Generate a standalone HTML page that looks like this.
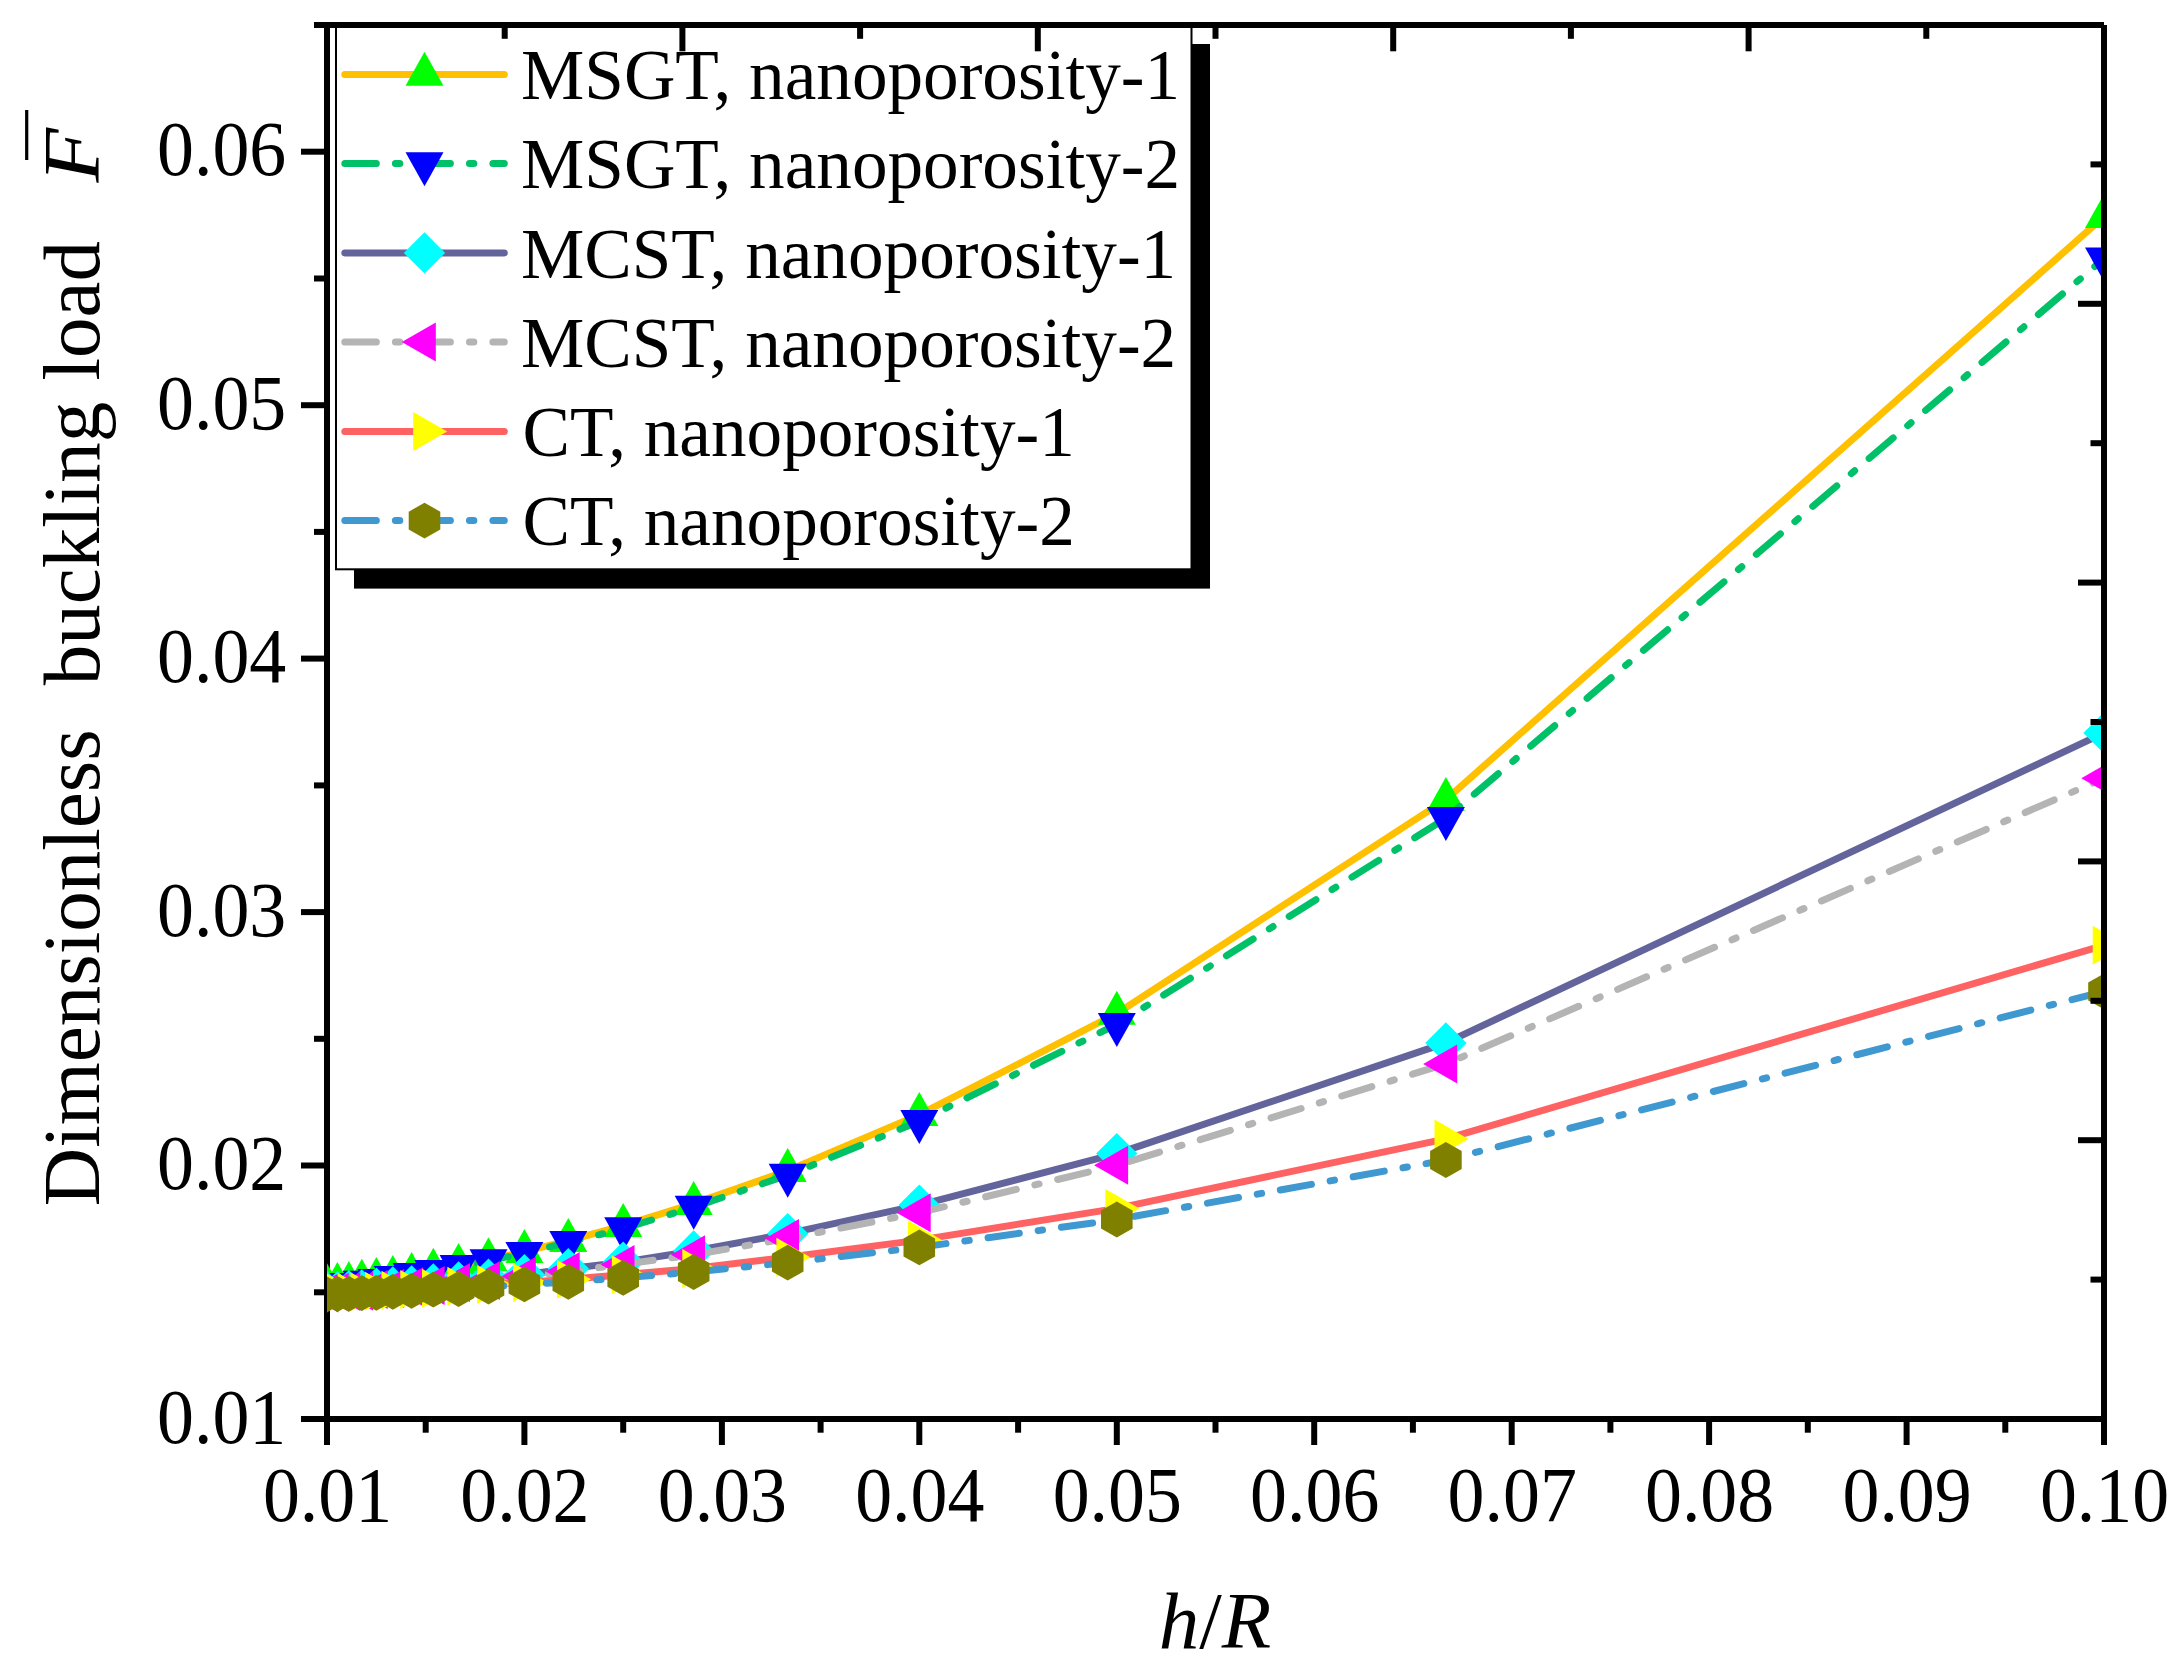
<!DOCTYPE html>
<html><head><meta charset="utf-8"><title>Dimensionless buckling load vs h/R</title>
<style>html,body{margin:0;padding:0;background:#fff;}body{width:2181px;height:1672px;overflow:hidden;}svg{display:block;}text{font-family:"Liberation Serif",serif;fill:#000;}</style></head><body>
<svg width="2181" height="1672" viewBox="0 0 2181 1672">
<rect width="2181" height="1672" fill="#fff"/>
<defs><clipPath id="plot"><rect x="327.0" y="25.0" width="1777.0" height="1394.0"/></clipPath></defs>
<g stroke="#000" stroke-width="6.0" fill="none" stroke-linecap="butt">
<line x1="327.0" y1="22.0" x2="327.0" y2="1445.0"/>
<line x1="301.0" y1="1419.0" x2="2107.0" y2="1419.0"/>
<line x1="425.7" y1="1419.0" x2="425.7" y2="1432.7"/>
<line x1="524.4" y1="1419.0" x2="524.4" y2="1445"/>
<line x1="623.2" y1="1419.0" x2="623.2" y2="1432.7"/>
<line x1="721.9" y1="1419.0" x2="721.9" y2="1445"/>
<line x1="820.6" y1="1419.0" x2="820.6" y2="1432.7"/>
<line x1="919.3" y1="1419.0" x2="919.3" y2="1445"/>
<line x1="1018.1" y1="1419.0" x2="1018.1" y2="1432.7"/>
<line x1="1116.8" y1="1419.0" x2="1116.8" y2="1445"/>
<line x1="1215.5" y1="1419.0" x2="1215.5" y2="1432.7"/>
<line x1="1314.2" y1="1419.0" x2="1314.2" y2="1445"/>
<line x1="1412.9" y1="1419.0" x2="1412.9" y2="1432.7"/>
<line x1="1511.7" y1="1419.0" x2="1511.7" y2="1445"/>
<line x1="1610.4" y1="1419.0" x2="1610.4" y2="1432.7"/>
<line x1="1709.1" y1="1419.0" x2="1709.1" y2="1445"/>
<line x1="1807.8" y1="1419.0" x2="1807.8" y2="1432.7"/>
<line x1="1906.6" y1="1419.0" x2="1906.6" y2="1445"/>
<line x1="2005.3" y1="1419.0" x2="2005.3" y2="1432.7"/>
<line x1="2104.0" y1="1419.0" x2="2104.0" y2="1445"/>
<line x1="314" y1="1292.3" x2="327.0" y2="1292.3"/>
<line x1="301" y1="1165.5" x2="327.0" y2="1165.5"/>
<line x1="314" y1="1038.8" x2="327.0" y2="1038.8"/>
<line x1="301" y1="912.1" x2="327.0" y2="912.1"/>
<line x1="314" y1="785.4" x2="327.0" y2="785.4"/>
<line x1="301" y1="658.6" x2="327.0" y2="658.6"/>
<line x1="314" y1="531.9" x2="327.0" y2="531.9"/>
<line x1="301" y1="405.2" x2="327.0" y2="405.2"/>
<line x1="314" y1="278.5" x2="327.0" y2="278.5"/>
<line x1="301" y1="151.7" x2="327.0" y2="151.7"/>
</g>
<g clip-path="url(#plot)">
<polyline points="2104.0,216.6 1445.9,799.6 1116.8,1013.5 919.3,1114.6 787.7,1170.6 693.7,1203.6 623.2,1225.6 568.3,1240.6 524.4,1251.7 488.5,1259.8 458.6,1265.7 433.3,1270.5 411.6,1274.5 392.8,1277.6 376.4,1279.6 361.8,1281.4 348.9,1283.7 337.4,1284.7 327.0,1285.9" fill="none" stroke="#FFC000" stroke-width="7.0" stroke-linecap="round" stroke-linejoin="round"/>
<polygon points="2104.0,193.9 2085.0,227.9 2123.0,227.9" fill="#00FF00"/>
<polygon points="1445.9,776.9 1426.9,810.9 1464.9,810.9" fill="#00FF00"/>
<polygon points="1116.8,990.8 1097.8,1024.8 1135.8,1024.8" fill="#00FF00"/>
<polygon points="919.3,1091.9 900.3,1125.9 938.3,1125.9" fill="#00FF00"/>
<polygon points="787.7,1147.9 768.7,1181.9 806.7,1181.9" fill="#00FF00"/>
<polygon points="693.7,1180.9 674.7,1214.9 712.7,1214.9" fill="#00FF00"/>
<polygon points="623.2,1202.9 604.2,1236.9 642.2,1236.9" fill="#00FF00"/>
<polygon points="568.3,1217.9 549.3,1251.9 587.3,1251.9" fill="#00FF00"/>
<polygon points="524.4,1229.1 505.4,1263.1 543.4,1263.1" fill="#00FF00"/>
<polygon points="488.5,1237.2 469.5,1271.2 507.5,1271.2" fill="#00FF00"/>
<polygon points="458.6,1243.0 439.6,1277.0 477.6,1277.0" fill="#00FF00"/>
<polygon points="433.3,1247.8 414.3,1281.8 452.3,1281.8" fill="#00FF00"/>
<polygon points="411.6,1251.9 392.6,1285.9 430.6,1285.9" fill="#00FF00"/>
<polygon points="392.8,1254.9 373.8,1288.9 411.8,1288.9" fill="#00FF00"/>
<polygon points="376.4,1256.9 357.4,1290.9 395.4,1290.9" fill="#00FF00"/>
<polygon points="361.8,1258.7 342.8,1292.7 380.8,1292.7" fill="#00FF00"/>
<polygon points="348.9,1261.0 329.9,1295.0 367.9,1295.0" fill="#00FF00"/>
<polygon points="337.4,1262.0 318.4,1296.0 356.4,1296.0" fill="#00FF00"/>
<polygon points="327.0,1263.3 308.0,1297.3 346.0,1297.3" fill="#00FF00"/>
<polyline points="2104.0,258.7 1445.9,818.3 1116.8,1024.4 919.3,1121.2 787.7,1175.2 693.7,1207.1 623.2,1228.7 568.3,1242.3 524.4,1253.2 488.5,1260.6 458.6,1266.4 433.3,1271.2 411.6,1274.3 392.8,1277.3 376.4,1280.4 361.8,1282.1 348.9,1284.5 337.4,1286.0 327.0,1284.7" fill="none" stroke="#00C168" stroke-width="7.0" stroke-linecap="round" stroke-linejoin="round" stroke-dasharray="31.55 19.05 4.4 19.05" stroke-dashoffset="19.5"/>
<polygon points="2104.0,281.4 2085.0,247.4 2123.0,247.4" fill="#0000FF"/>
<polygon points="1445.9,841.0 1426.9,807.0 1464.9,807.0" fill="#0000FF"/>
<polygon points="1116.8,1047.0 1097.8,1013.0 1135.8,1013.0" fill="#0000FF"/>
<polygon points="919.3,1143.9 900.3,1109.9 938.3,1109.9" fill="#0000FF"/>
<polygon points="787.7,1197.8 768.7,1163.8 806.7,1163.8" fill="#0000FF"/>
<polygon points="693.7,1229.8 674.7,1195.8 712.7,1195.8" fill="#0000FF"/>
<polygon points="623.2,1251.3 604.2,1217.3 642.2,1217.3" fill="#0000FF"/>
<polygon points="568.3,1265.0 549.3,1231.0 587.3,1231.0" fill="#0000FF"/>
<polygon points="524.4,1275.9 505.4,1241.9 543.4,1241.9" fill="#0000FF"/>
<polygon points="488.5,1283.3 469.5,1249.3 507.5,1249.3" fill="#0000FF"/>
<polygon points="458.6,1289.1 439.6,1255.1 477.6,1255.1" fill="#0000FF"/>
<polygon points="433.3,1293.9 414.3,1259.9 452.3,1259.9" fill="#0000FF"/>
<polygon points="411.6,1296.9 392.6,1262.9 430.6,1262.9" fill="#0000FF"/>
<polygon points="392.8,1300.0 373.8,1266.0 411.8,1266.0" fill="#0000FF"/>
<polygon points="376.4,1303.0 357.4,1269.0 395.4,1269.0" fill="#0000FF"/>
<polygon points="361.8,1304.8 342.8,1270.8 380.8,1270.8" fill="#0000FF"/>
<polygon points="348.9,1307.1 329.9,1273.1 367.9,1273.1" fill="#0000FF"/>
<polygon points="337.4,1308.6 318.4,1274.6 356.4,1274.6" fill="#0000FF"/>
<polygon points="327.0,1307.3 308.0,1273.3 346.0,1273.3" fill="#0000FF"/>
<polyline points="2104.0,732.9 1445.9,1042.9 1116.8,1153.6 919.3,1205.1 787.7,1233.7 693.7,1251.0 623.2,1262.1 568.3,1268.7 524.4,1274.8 488.5,1279.1 458.6,1281.9 433.3,1283.9 411.6,1285.9 392.8,1287.0 376.4,1288.2 361.8,1290.0 348.9,1290.8 337.4,1291.6 327.0,1291.8" fill="none" stroke="#64649C" stroke-width="7.0" stroke-linecap="round" stroke-linejoin="round"/>
<polygon points="2104.0,712.2 2124.7,732.9 2104.0,753.6 2083.3,732.9" fill="#00FFFF"/>
<polygon points="1445.9,1022.2 1466.6,1042.9 1445.9,1063.6 1425.2,1042.9" fill="#00FFFF"/>
<polygon points="1116.8,1132.9 1137.5,1153.6 1116.8,1174.3 1096.1,1153.6" fill="#00FFFF"/>
<polygon points="919.3,1184.4 940.0,1205.1 919.3,1225.8 898.6,1205.1" fill="#00FFFF"/>
<polygon points="787.7,1213.0 808.4,1233.7 787.7,1254.4 767.0,1233.7" fill="#00FFFF"/>
<polygon points="693.7,1230.3 714.4,1251.0 693.7,1271.7 673.0,1251.0" fill="#00FFFF"/>
<polygon points="623.2,1241.4 643.9,1262.1 623.2,1282.8 602.5,1262.1" fill="#00FFFF"/>
<polygon points="568.3,1248.0 589.0,1268.7 568.3,1289.4 547.6,1268.7" fill="#00FFFF"/>
<polygon points="524.4,1254.1 545.1,1274.8 524.4,1295.5 503.7,1274.8" fill="#00FFFF"/>
<polygon points="488.5,1258.4 509.2,1279.1 488.5,1299.8 467.8,1279.1" fill="#00FFFF"/>
<polygon points="458.6,1261.2 479.3,1281.9 458.6,1302.6 437.9,1281.9" fill="#00FFFF"/>
<polygon points="433.3,1263.2 454.0,1283.9 433.3,1304.6 412.6,1283.9" fill="#00FFFF"/>
<polygon points="411.6,1265.2 432.3,1285.9 411.6,1306.6 390.9,1285.9" fill="#00FFFF"/>
<polygon points="392.8,1266.3 413.5,1287.0 392.8,1307.7 372.1,1287.0" fill="#00FFFF"/>
<polygon points="376.4,1267.5 397.1,1288.2 376.4,1308.9 355.7,1288.2" fill="#00FFFF"/>
<polygon points="361.8,1269.3 382.5,1290.0 361.8,1310.7 341.1,1290.0" fill="#00FFFF"/>
<polygon points="348.9,1270.1 369.6,1290.8 348.9,1311.5 328.2,1290.8" fill="#00FFFF"/>
<polygon points="337.4,1270.9 358.1,1291.6 337.4,1312.3 316.7,1291.6" fill="#00FFFF"/>
<polygon points="327.0,1271.1 347.7,1291.8 327.0,1312.5 306.3,1291.8" fill="#00FFFF"/>
<polyline points="2104.0,778.3 1445.9,1063.9 1116.8,1165.3 919.3,1212.7 787.7,1238.5 693.7,1254.8 623.2,1264.4 568.3,1271.5 524.4,1276.3 488.5,1280.4 458.6,1282.4 433.3,1285.4 411.6,1286.7 392.8,1288.5 376.4,1289.5 361.8,1291.3 348.9,1291.5 337.4,1292.2 327.0,1293.0" fill="none" stroke="#B4B4B4" stroke-width="7.0" stroke-linecap="round" stroke-linejoin="round" stroke-dasharray="31.55 19.05 4.4 19.05" stroke-dashoffset="19.7"/>
<polygon points="2081.3,778.3 2115.3,758.8 2115.3,797.8" fill="#FF00FF"/>
<polygon points="1423.2,1063.9 1457.2,1044.4 1457.2,1083.4" fill="#FF00FF"/>
<polygon points="1094.1,1165.3 1128.1,1145.8 1128.1,1184.8" fill="#FF00FF"/>
<polygon points="896.7,1212.7 930.7,1193.2 930.7,1232.2" fill="#FF00FF"/>
<polygon points="765.0,1238.5 799.0,1219.0 799.0,1258.0" fill="#FF00FF"/>
<polygon points="671.0,1254.8 705.0,1235.3 705.0,1274.3" fill="#FF00FF"/>
<polygon points="600.5,1264.4 634.5,1244.9 634.5,1283.9" fill="#FF00FF"/>
<polygon points="545.7,1271.5 579.7,1252.0 579.7,1291.0" fill="#FF00FF"/>
<polygon points="501.8,1276.3 535.8,1256.8 535.8,1295.8" fill="#FF00FF"/>
<polygon points="465.9,1280.4 499.9,1260.9 499.9,1299.9" fill="#FF00FF"/>
<polygon points="436.0,1282.4 470.0,1262.9 470.0,1301.9" fill="#FF00FF"/>
<polygon points="410.6,1285.4 444.6,1265.9 444.6,1304.9" fill="#FF00FF"/>
<polygon points="389.0,1286.7 423.0,1267.2 423.0,1306.2" fill="#FF00FF"/>
<polygon points="370.1,1288.5 404.1,1269.0 404.1,1308.0" fill="#FF00FF"/>
<polygon points="353.7,1289.5 387.7,1270.0 387.7,1309.0" fill="#FF00FF"/>
<polygon points="339.2,1291.3 373.2,1271.8 373.2,1310.8" fill="#FF00FF"/>
<polygon points="326.3,1291.5 360.3,1272.0 360.3,1311.0" fill="#FF00FF"/>
<polygon points="314.7,1292.2 348.7,1272.7 348.7,1311.7" fill="#FF00FF"/>
<polygon points="304.3,1293.0 338.3,1273.5 338.3,1312.5" fill="#FF00FF"/>
<polyline points="2104.0,945.3 1445.9,1138.9 1116.8,1208.4 919.3,1240.1 787.7,1257.3 693.7,1268.4 623.2,1274.8 568.3,1279.3 524.4,1282.4 488.5,1284.4 458.6,1286.2 433.3,1288.2 411.6,1289.5 392.8,1290.2 376.4,1291.3 361.8,1291.7 348.9,1292.2 337.4,1292.7 327.0,1292.3" fill="none" stroke="#FF6262" stroke-width="7.0" stroke-linecap="round" stroke-linejoin="round"/>
<polygon points="2126.7,945.3 2092.7,925.8 2092.7,964.8" fill="#FFFF00"/>
<polygon points="1468.5,1138.9 1434.5,1119.4 1434.5,1158.4" fill="#FFFF00"/>
<polygon points="1139.4,1208.4 1105.4,1188.9 1105.4,1227.9" fill="#FFFF00"/>
<polygon points="942.0,1240.1 908.0,1220.6 908.0,1259.6" fill="#FFFF00"/>
<polygon points="810.4,1257.3 776.4,1237.8 776.4,1276.8" fill="#FFFF00"/>
<polygon points="716.3,1268.4 682.3,1248.9 682.3,1287.9" fill="#FFFF00"/>
<polygon points="645.8,1274.8 611.8,1255.3 611.8,1294.3" fill="#FFFF00"/>
<polygon points="591.0,1279.3 557.0,1259.8 557.0,1298.8" fill="#FFFF00"/>
<polygon points="547.1,1282.4 513.1,1262.9 513.1,1301.9" fill="#FFFF00"/>
<polygon points="511.2,1284.4 477.2,1264.9 477.2,1303.9" fill="#FFFF00"/>
<polygon points="481.3,1286.2 447.3,1266.7 447.3,1305.7" fill="#FFFF00"/>
<polygon points="456.0,1288.2 422.0,1268.7 422.0,1307.7" fill="#FFFF00"/>
<polygon points="434.3,1289.5 400.3,1270.0 400.3,1309.0" fill="#FFFF00"/>
<polygon points="415.5,1290.2 381.5,1270.7 381.5,1309.7" fill="#FFFF00"/>
<polygon points="399.0,1291.3 365.0,1271.8 365.0,1310.8" fill="#FFFF00"/>
<polygon points="384.5,1291.7 350.5,1272.2 350.5,1311.2" fill="#FFFF00"/>
<polygon points="371.6,1292.2 337.6,1272.7 337.6,1311.7" fill="#FFFF00"/>
<polygon points="360.1,1292.7 326.1,1273.2 326.1,1312.2" fill="#FFFF00"/>
<polygon points="349.7,1292.3 315.7,1272.8 315.7,1311.8" fill="#FFFF00"/>
<polyline points="2104.0,991.4 1445.9,1160.0 1116.8,1219.5 919.3,1247.4 787.7,1262.6 693.7,1272.0 623.2,1277.8 568.3,1281.9 524.4,1284.4 488.5,1286.7 458.6,1289.0 433.3,1289.7 411.6,1290.8 392.8,1291.8 376.4,1292.8 361.8,1293.1 348.9,1293.8 337.4,1294.0 327.0,1294.3" fill="none" stroke="#3F98CF" stroke-width="7.0" stroke-linecap="round" stroke-linejoin="round" stroke-dasharray="31.55 19.05 4.4 19.05" stroke-dashoffset="-1.5"/>
<polygon points="2104.0,973.5 2119.8,982.5 2119.8,1000.4 2104.0,1009.3 2088.2,1000.4 2088.2,982.5" fill="#808000"/>
<polygon points="1445.9,1142.1 1461.7,1151.0 1461.7,1168.9 1445.9,1177.9 1430.1,1168.9 1430.1,1151.0" fill="#808000"/>
<polygon points="1116.8,1201.6 1132.6,1210.6 1132.6,1228.5 1116.8,1237.4 1101.0,1228.5 1101.0,1210.6" fill="#808000"/>
<polygon points="919.3,1229.5 935.1,1238.5 935.1,1256.4 919.3,1265.3 903.5,1256.4 903.5,1238.5" fill="#808000"/>
<polygon points="787.7,1244.7 803.5,1253.7 803.5,1271.6 787.7,1280.5 771.9,1271.6 771.9,1253.7" fill="#808000"/>
<polygon points="693.7,1254.1 709.5,1263.0 709.5,1280.9 693.7,1289.9 677.9,1280.9 677.9,1263.0" fill="#808000"/>
<polygon points="623.2,1259.9 639.0,1268.9 639.0,1286.8 623.2,1295.7 607.4,1286.8 607.4,1268.9" fill="#808000"/>
<polygon points="568.3,1264.0 584.1,1272.9 584.1,1290.8 568.3,1299.8 552.5,1290.8 552.5,1272.9" fill="#808000"/>
<polygon points="524.4,1266.5 540.2,1275.5 540.2,1293.4 524.4,1302.3 508.6,1293.4 508.6,1275.5" fill="#808000"/>
<polygon points="488.5,1268.8 504.3,1277.7 504.3,1295.6 488.5,1304.6 472.7,1295.6 472.7,1277.7" fill="#808000"/>
<polygon points="458.6,1271.1 474.4,1280.0 474.4,1297.9 458.6,1306.9 442.8,1297.9 442.8,1280.0" fill="#808000"/>
<polygon points="433.3,1271.8 449.1,1280.8 449.1,1298.7 433.3,1307.6 417.5,1298.7 417.5,1280.8" fill="#808000"/>
<polygon points="411.6,1272.9 427.4,1281.8 427.4,1299.7 411.6,1308.7 395.8,1299.7 395.8,1281.8" fill="#808000"/>
<polygon points="392.8,1273.9 408.6,1282.8 408.6,1300.7 392.8,1309.7 377.0,1300.7 377.0,1282.8" fill="#808000"/>
<polygon points="376.4,1274.9 392.2,1283.8 392.2,1301.7 376.4,1310.7 360.6,1301.7 360.6,1283.8" fill="#808000"/>
<polygon points="361.8,1275.2 377.6,1284.1 377.6,1302.0 361.8,1311.0 346.0,1302.0 346.0,1284.1" fill="#808000"/>
<polygon points="348.9,1275.9 364.7,1284.8 364.7,1302.7 348.9,1311.7 333.1,1302.7 333.1,1284.8" fill="#808000"/>
<polygon points="337.4,1276.1 353.2,1285.0 353.2,1302.9 337.4,1311.9 321.6,1302.9 321.6,1285.0" fill="#808000"/>
<polygon points="327.0,1276.4 342.8,1285.4 342.8,1303.3 327.0,1312.2 311.2,1303.3 311.2,1285.4" fill="#808000"/>
</g>
<rect x="354" y="44" width="856" height="544.6" fill="#000"/>
<rect x="336.0" y="25.0" width="855.5" height="544.3" fill="#fff" stroke="#000" stroke-width="2"/>
<line x1="344.8" y1="74.4" x2="504.3" y2="74.4" stroke="#FFC000" stroke-width="7.0" stroke-linecap="round"/>
<polygon points="424.5,51.7 405.5,85.7 443.5,85.7" fill="#00FF00"/>
<text x="521.0" y="99.2" font-size="71.2">MSGT, nanoporosity-1</text>
<line x1="344.8" y1="163.6" x2="504.3" y2="163.6" stroke="#00C168" stroke-width="7.0" stroke-linecap="round" stroke-dasharray="31.55 19.05 4.4 19.05"/>
<polygon points="424.5,186.3 405.5,152.3 443.5,152.3" fill="#0000FF"/>
<text x="521.0" y="188.4" font-size="71.2">MSGT, nanoporosity-2</text>
<line x1="344.8" y1="252.9" x2="504.3" y2="252.9" stroke="#64649C" stroke-width="7.0" stroke-linecap="round"/>
<polygon points="424.5,232.2 445.2,252.9 424.5,273.6 403.8,252.9" fill="#00FFFF"/>
<text x="521.0" y="277.7" font-size="71.2">MCST, nanoporosity-1</text>
<line x1="344.8" y1="342.1" x2="504.3" y2="342.1" stroke="#B4B4B4" stroke-width="7.0" stroke-linecap="round" stroke-dasharray="31.55 19.05 4.4 19.05"/>
<polygon points="401.8,342.1 435.8,322.6 435.8,361.6" fill="#FF00FF"/>
<text x="521.0" y="366.9" font-size="71.2">MCST, nanoporosity-2</text>
<line x1="344.8" y1="431.4" x2="504.3" y2="431.4" stroke="#FF6262" stroke-width="7.0" stroke-linecap="round"/>
<polygon points="447.2,431.4 413.2,411.9 413.2,450.9" fill="#FFFF00"/>
<text x="522.5" y="456.2" font-size="71.2">CT, nanoporosity-1</text>
<line x1="344.8" y1="520.6" x2="504.3" y2="520.6" stroke="#3F98CF" stroke-width="7.0" stroke-linecap="round" stroke-dasharray="31.55 19.05 4.4 19.05"/>
<polygon points="424.5,502.7 440.3,511.7 440.3,529.6 424.5,538.5 408.7,529.6 408.7,511.7" fill="#808000"/>
<text x="522.5" y="545.4" font-size="71.2">CT, nanoporosity-2</text>
<g stroke="#000" stroke-width="6.0" fill="none" stroke-linecap="butt">
<line x1="314.0" y1="25.0" x2="2104.0" y2="25.0"/>
<line x1="2104.0" y1="25.0" x2="2104.0" y2="1445.0"/>
<line x1="504.7" y1="25.0" x2="504.7" y2="38.8"/>
<line x1="682.4" y1="25.0" x2="682.4" y2="51.3"/>
<line x1="860.1" y1="25.0" x2="860.1" y2="38.8"/>
<line x1="1037.8" y1="25.0" x2="1037.8" y2="51.3"/>
<line x1="1215.5" y1="25.0" x2="1215.5" y2="38.8"/>
<line x1="1393.2" y1="25.0" x2="1393.2" y2="51.3"/>
<line x1="1570.9" y1="25.0" x2="1570.9" y2="38.8"/>
<line x1="1748.6" y1="25.0" x2="1748.6" y2="51.3"/>
<line x1="1926.3" y1="25.0" x2="1926.3" y2="38.8"/>
<line x1="2090.5" y1="164.4" x2="2104.0" y2="164.4"/>
<line x1="2078.0" y1="303.8" x2="2104.0" y2="303.8"/>
<line x1="2090.5" y1="443.2" x2="2104.0" y2="443.2"/>
<line x1="2078.0" y1="582.6" x2="2104.0" y2="582.6"/>
<line x1="2090.5" y1="722.0" x2="2104.0" y2="722.0"/>
<line x1="2078.0" y1="861.4" x2="2104.0" y2="861.4"/>
<line x1="2090.5" y1="1000.8" x2="2104.0" y2="1000.8"/>
<line x1="2078.0" y1="1140.2" x2="2104.0" y2="1140.2"/>
<line x1="2090.5" y1="1279.6" x2="2104.0" y2="1279.6"/>
</g>
<text transform="translate(327.5,1521.2) scale(0.947,1)" font-size="78" text-anchor="middle">0.01</text>
<text transform="translate(524.9,1521.2) scale(0.947,1)" font-size="78" text-anchor="middle">0.02</text>
<text transform="translate(722.4,1521.2) scale(0.947,1)" font-size="78" text-anchor="middle">0.03</text>
<text transform="translate(919.8,1521.2) scale(0.947,1)" font-size="78" text-anchor="middle">0.04</text>
<text transform="translate(1117.3,1521.2) scale(0.947,1)" font-size="78" text-anchor="middle">0.05</text>
<text transform="translate(1314.7,1521.2) scale(0.947,1)" font-size="78" text-anchor="middle">0.06</text>
<text transform="translate(1512.2,1521.2) scale(0.947,1)" font-size="78" text-anchor="middle">0.07</text>
<text transform="translate(1709.6,1521.2) scale(0.947,1)" font-size="78" text-anchor="middle">0.08</text>
<text transform="translate(1907.1,1521.2) scale(0.947,1)" font-size="78" text-anchor="middle">0.09</text>
<text transform="translate(2104.5,1521.2) scale(0.947,1)" font-size="78" text-anchor="middle">0.10</text>
<text transform="translate(286.3,1442.7) scale(0.947,1)" font-size="78" text-anchor="end">0.01</text>
<text transform="translate(286.3,1189.2) scale(0.947,1)" font-size="78" text-anchor="end">0.02</text>
<text transform="translate(286.3,935.8) scale(0.947,1)" font-size="78" text-anchor="end">0.03</text>
<text transform="translate(286.3,682.3) scale(0.947,1)" font-size="78" text-anchor="end">0.04</text>
<text transform="translate(286.3,428.9) scale(0.947,1)" font-size="78" text-anchor="end">0.05</text>
<text transform="translate(286.3,175.4) scale(0.947,1)" font-size="78" text-anchor="end">0.06</text>
<text x="1215" y="1648.2" font-size="81" font-style="italic" text-anchor="middle">h<tspan font-style="normal">/</tspan>R</text>
<text transform="translate(98.9,1206.3) rotate(-90)" font-size="81">Dimensionless</text>
<text transform="translate(98.9,685.3) rotate(-90)" font-size="81">buckling</text>
<text transform="translate(98.9,380.5) rotate(-90)" font-size="81">load</text>
<text transform="translate(98.9,182.6) rotate(-90) scale(1.1,1)" font-size="81" font-style="italic">F</text>
<rect x="25.1" y="110" width="3.2" height="50" fill="#000"/>
</svg></body></html>
